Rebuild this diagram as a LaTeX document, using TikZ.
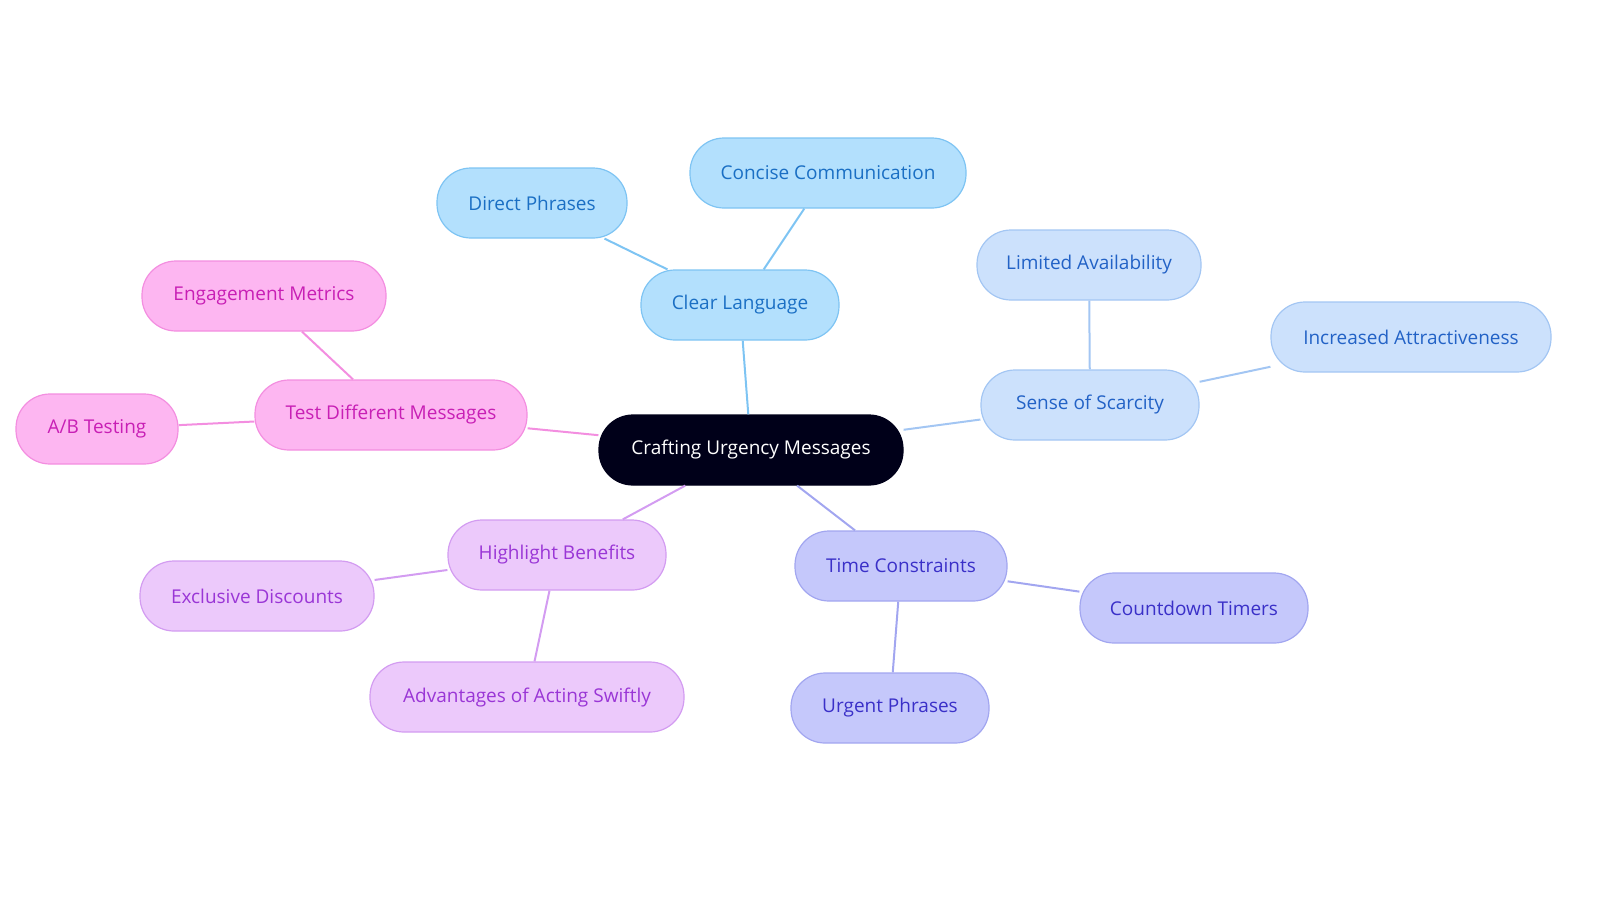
\documentclass[tikz,border=0pt]{standalone}
\usepackage{fontspec}
\setmainfont{Open Sans}
\begin{document}
\begin{tikzpicture}[x=1pt,y=-1pt,
  base/.style={rounded corners=34pt,minimum height=70pt,line width=1.2pt,font=\fontsize{19pt}{21pt}\selectfont,inner sep=0pt},
  blu/.style={base,fill=cB,draw=eB,text=tB},
  sca/.style={base,fill=cS,draw=eS,text=tS},
  tim/.style={base,fill=cT,draw=eT,text=tT},
  lav/.style={base,fill=cL,draw=eL,text=tL},
  pnk/.style={base,fill=cP,draw=eP,text=tP},
  ed/.style={line width=2pt}]
\definecolor{cB}{HTML}{B3E0FD}\definecolor{eB}{HTML}{7EC4F3}\definecolor{tB}{HTML}{1A6FC4}
\definecolor{cS}{HTML}{CCE1FC}\definecolor{eS}{HTML}{A3C6F3}\definecolor{tS}{HTML}{2262C6}
\definecolor{cT}{HTML}{C5C8FB}\definecolor{eT}{HTML}{A2A6F0}\definecolor{tT}{HTML}{3A30C8}
\definecolor{cL}{HTML}{ECC9FB}\definecolor{eL}{HTML}{D39CF1}\definecolor{tL}{HTML}{9A36D6}
\definecolor{cP}{HTML}{FDB6F1}\definecolor{eP}{HTML}{F38EE0}\definecolor{tP}{HTML}{C81FB5}
\useasboundingbox (0,0) rectangle (1600,903);
\node[base,fill=black!90!blue,draw=black!90!blue,text=white,minimum width=304pt] (c) at (751,450) {Crafting Urgency Messages};
\node[blu,minimum width=198pt] (cl) at (740,305) {Clear Language};
\node[blu,minimum width=190pt] (dp) at (532,203) {Direct Phrases};
\node[blu,minimum width=276pt] (cc) at (828,173) {Concise Communication};
\node[sca,minimum width=218pt] (ss) at (1090,405) {Sense of Scarcity};
\node[sca,minimum width=224pt] (la) at (1089,265) {Limited Availability};
\node[sca,minimum width=280pt] (ia) at (1411,337) {Increased Attractiveness};
\node[pnk,minimum width=272pt] (td) at (391,415) {Test Different Messages};
\node[pnk,minimum width=244pt] (em) at (264,296) {Engagement Metrics};
\node[pnk,minimum width=162pt] (ab) at (97,429) {A/B Testing};
\node[lav,minimum width=218pt] (hb) at (557,555) {Highlight Benefits};
\node[lav,minimum width=234pt] (ed) at (257,596) {Exclusive Discounts};
\node[lav,minimum width=314pt] (aa) at (527,697) {Advantages of Acting Swiftly};
\node[tim,minimum width=212pt] (tc) at (901,566) {Time Constraints};
\node[tim,minimum width=228pt] (ct) at (1194,608) {Countdown Timers};
\node[tim,minimum width=198pt] (up) at (890,708) {Urgent Phrases};
\begin{scope}[ed]
\draw[eB] (c) -- (cl); \draw[eB] (cl) -- (dp); \draw[eB] (cl) -- (cc);
\draw[eS] (c) -- (ss); \draw[eS] (ss) -- (la); \draw[eS] (ss) -- (ia);
\draw[eP] (c) -- (td); \draw[eP] (td) -- (em); \draw[eP] (td) -- (ab);
\draw[eL] (c) -- (hb); \draw[eL] (hb) -- (ed); \draw[eL] (hb) -- (aa);
\draw[eT] (c) -- (tc); \draw[eT] (tc) -- (ct); \draw[eT] (tc) -- (up);
\end{scope}
\end{tikzpicture}
\end{document}
